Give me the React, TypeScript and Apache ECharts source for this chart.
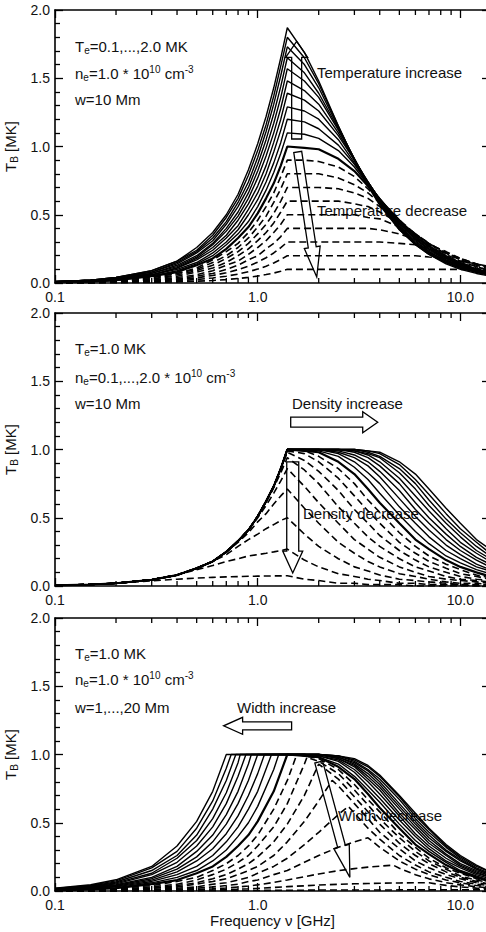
import { useEffect, useRef } from "react";
import * as echarts from "echarts";

const FONT = '"Liberation Sans", Arial, Helvetica, sans-serif';

// Frequency samples (GHz) shared by the temperature and density panels
const FREQ_GRID = [0.1, 0.15, 0.2, 0.3, 0.4, 0.5, 0.6, 0.7, 0.8, 0.9, 1.0, 1.1, 1.2, 1.3, 1.4, 1.7, 2.0, 2.5, 3.0, 3.5, 4.0, 5.0, 6.0, 7.0, 8.5, 10, 12, 14];

// Panel 1: electron temperature T_e = 0.1 ... 2.0 MK
const TEMP_VALUES = [0.1, 0.2, 0.3, 0.4, 0.5, 0.6, 0.7, 0.8, 0.9, 1.0, 1.1, 1.2, 1.3, 1.4, 1.5, 1.6, 1.7, 1.8, 1.9, 2.0];
const TEMP_CURVES = [
  [0.001, 0.001, 0.002, 0.005, 0.008, 0.013, 0.018, 0.025, 0.033, 0.041, 0.051, 0.062, 0.073, 0.086, 0.10, 0.10, 0.10, 0.10, 0.10, 0.10, 0.10, 0.10, 0.10, 0.10, 0.10, 0.10, 0.10, 0.09],
  [0.001, 0.002, 0.004, 0.009, 0.016, 0.026, 0.037, 0.050, 0.065, 0.083, 0.102, 0.123, 0.147, 0.172, 0.20, 0.20, 0.20, 0.20, 0.20, 0.20, 0.20, 0.20, 0.20, 0.19, 0.18, 0.16, 0.14, 0.12],
  [0.002, 0.003, 0.006, 0.014, 0.024, 0.038, 0.055, 0.075, 0.098, 0.124, 0.153, 0.185, 0.220, 0.259, 0.30, 0.30, 0.30, 0.30, 0.30, 0.30, 0.30, 0.29, 0.28, 0.25, 0.22, 0.18, 0.14, 0.11],
  [0, 0, 0.01, 0.02, 0.03, 0.05, 0.07, 0.10, 0.13, 0.17, 0.20, 0.25, 0.29, 0.34, 0.40, 0.40, 0.40, 0.40, 0.40, 0.40, 0.39, 0.36, 0.32, 0.28, 0.23, 0.18, 0.14, 0.11],
  [0, 0.01, 0.01, 0.02, 0.04, 0.06, 0.09, 0.13, 0.16, 0.21, 0.26, 0.31, 0.37, 0.43, 0.50, 0.50, 0.50, 0.50, 0.50, 0.48, 0.47, 0.41, 0.35, 0.29, 0.22, 0.17, 0.13, 0.10],
  [0, 0.01, 0.01, 0.03, 0.05, 0.08, 0.11, 0.15, 0.20, 0.25, 0.31, 0.37, 0.44, 0.52, 0.60, 0.60, 0.60, 0.60, 0.58, 0.56, 0.52, 0.44, 0.36, 0.29, 0.22, 0.17, 0.12, 0.09],
  [0, 0.01, 0.01, 0.03, 0.06, 0.09, 0.13, 0.18, 0.23, 0.29, 0.36, 0.43, 0.51, 0.60, 0.70, 0.70, 0.70, 0.69, 0.66, 0.62, 0.56, 0.45, 0.36, 0.29, 0.21, 0.16, 0.12, 0.09],
  [0, 0.01, 0.02, 0.04, 0.07, 0.10, 0.15, 0.20, 0.26, 0.33, 0.41, 0.49, 0.59, 0.69, 0.80, 0.80, 0.80, 0.77, 0.72, 0.66, 0.59, 0.46, 0.36, 0.28, 0.20, 0.15, 0.11, 0.08],
  [0, 0.01, 0.02, 0.04, 0.07, 0.11, 0.17, 0.23, 0.29, 0.37, 0.46, 0.56, 0.66, 0.78, 0.90, 0.90, 0.89, 0.85, 0.78, 0.69, 0.60, 0.46, 0.35, 0.27, 0.20, 0.15, 0.10, 0.08],
  [0.01, 0.01, 0.02, 0.05, 0.08, 0.13, 0.18, 0.25, 0.33, 0.41, 0.51, 0.62, 0.73, 0.86, 1.00, 0.99, 0.98, 0.91, 0.82, 0.71, 0.61, 0.46, 0.34, 0.27, 0.19, 0.14, 0.10, 0.07],
  [0.01, 0.01, 0.02, 0.05, 0.09, 0.14, 0.20, 0.28, 0.36, 0.45, 0.56, 0.68, 0.81, 0.95, 1.10, 1.09, 1.06, 0.97, 0.85, 0.72, 0.62, 0.45, 0.34, 0.26, 0.18, 0.14, 0.10, 0.07],
  [0.01, 0.01, 0.02, 0.06, 0.10, 0.15, 0.22, 0.30, 0.39, 0.50, 0.61, 0.74, 0.88, 1.03, 1.20, 1.18, 1.13, 1.01, 0.87, 0.73, 0.62, 0.44, 0.33, 0.25, 0.18, 0.13, 0.09, 0.07],
  [0.01, 0.01, 0.03, 0.06, 0.11, 0.17, 0.24, 0.33, 0.42, 0.54, 0.66, 0.80, 0.96, 1.12, 1.29, 1.26, 1.20, 1.05, 0.88, 0.74, 0.61, 0.44, 0.32, 0.25, 0.17, 0.13, 0.09, 0.07],
  [0.01, 0.02, 0.03, 0.06, 0.11, 0.18, 0.26, 0.35, 0.46, 0.58, 0.71, 0.86, 1.03, 1.20, 1.39, 1.34, 1.26, 1.08, 0.90, 0.74, 0.61, 0.43, 0.32, 0.24, 0.17, 0.12, 0.09, 0.06],
  [0.01, 0.02, 0.03, 0.07, 0.12, 0.19, 0.28, 0.38, 0.49, 0.62, 0.77, 0.93, 1.10, 1.28, 1.48, 1.41, 1.31, 1.10, 0.90, 0.74, 0.61, 0.42, 0.31, 0.23, 0.16, 0.12, 0.08, 0.06],
  [0.01, 0.02, 0.03, 0.07, 0.13, 0.20, 0.29, 0.40, 0.52, 0.66, 0.82, 0.99, 1.17, 1.36, 1.57, 1.48, 1.36, 1.12, 0.91, 0.73, 0.60, 0.41, 0.30, 0.23, 0.16, 0.12, 0.08, 0.06],
  [0.01, 0.02, 0.03, 0.08, 0.14, 0.22, 0.31, 0.43, 0.56, 0.70, 0.87, 1.05, 1.24, 1.44, 1.65, 1.54, 1.39, 1.13, 0.91, 0.73, 0.59, 0.41, 0.29, 0.22, 0.15, 0.11, 0.08, 0.06],
  [0.01, 0.02, 0.04, 0.08, 0.15, 0.23, 0.33, 0.45, 0.59, 0.74, 0.92, 1.11, 1.31, 1.52, 1.73, 1.60, 1.43, 1.14, 0.91, 0.72, 0.59, 0.40, 0.29, 0.22, 0.15, 0.11, 0.08, 0.06],
  [0.01, 0.02, 0.04, 0.09, 0.16, 0.24, 0.35, 0.48, 0.62, 0.79, 0.97, 1.16, 1.37, 1.59, 1.80, 1.65, 1.46, 1.15, 0.90, 0.72, 0.58, 0.39, 0.28, 0.21, 0.15, 0.11, 0.08, 0.06],
  [0.01, 0.02, 0.04, 0.09, 0.16, 0.26, 0.37, 0.50, 0.65, 0.83, 1.02, 1.22, 1.43, 1.65, 1.87, 1.69, 1.48, 1.15, 0.90, 0.71, 0.57, 0.39, 0.28, 0.21, 0.14, 0.10, 0.07, 0.05],
];

// Panel 2: electron density n_e = 0.1 ... 2.0 x 10^10 cm^-3
const DENS_VALUES = [0.1, 0.2, 0.3, 0.4, 0.5, 0.6, 0.7, 0.8, 0.9, 1.0, 1.1, 1.2, 1.3, 1.4, 1.5, 1.6, 1.7, 1.8, 1.9, 2.0];
const DENS_CURVES = [
  [0.005, 0.011, 0.02, 0.037, 0.05, 0.058, 0.063, 0.067, 0.069, 0.071, 0.072, 0.073, 0.074, 0.074, 0.075, 0.05, 0.04, 0.02, 0.02, 0.01, 0.01, 0.01, 0, 0, 0, 0, 0, 0],
  [0.005, 0.011, 0.02, 0.046, 0.08, 0.12, 0.15, 0.18, 0.20, 0.22, 0.23, 0.24, 0.25, 0.26, 0.27, 0.19, 0.14, 0.09, 0.07, 0.05, 0.04, 0.02, 0.02, 0.01, 0.01, 0.01, 0, 0],
  [0.005, 0.011, 0.02, 0.046, 0.08, 0.13, 0.18, 0.23, 0.29, 0.34, 0.38, 0.42, 0.45, 0.48, 0.50, 0.38, 0.29, 0.20, 0.14, 0.11, 0.08, 0.05, 0.04, 0.03, 0.02, 0.01, 0.01, 0.01],
  [0.005, 0.011, 0.02, 0.046, 0.08, 0.13, 0.18, 0.25, 0.32, 0.39, 0.47, 0.53, 0.60, 0.66, 0.71, 0.57, 0.46, 0.32, 0.24, 0.18, 0.14, 0.09, 0.07, 0.05, 0.03, 0.02, 0.02, 0.01],
  [0.005, 0.011, 0.02, 0.046, 0.08, 0.13, 0.18, 0.25, 0.33, 0.41, 0.50, 0.59, 0.68, 0.77, 0.86, 0.73, 0.61, 0.46, 0.34, 0.27, 0.21, 0.14, 0.10, 0.07, 0.05, 0.04, 0.03, 0.02],
  [0.005, 0.011, 0.02, 0.046, 0.08, 0.13, 0.18, 0.25, 0.33, 0.41, 0.51, 0.61, 0.72, 0.83, 0.94, 0.85, 0.75, 0.58, 0.46, 0.36, 0.29, 0.20, 0.14, 0.11, 0.07, 0.05, 0.04, 0.03],
  [0.005, 0.011, 0.02, 0.046, 0.08, 0.13, 0.18, 0.25, 0.33, 0.41, 0.51, 0.62, 0.73, 0.85, 0.98, 0.92, 0.84, 0.70, 0.56, 0.46, 0.37, 0.26, 0.19, 0.14, 0.10, 0.07, 0.05, 0.04],
  [0.005, 0.011, 0.02, 0.046, 0.08, 0.13, 0.18, 0.25, 0.33, 0.41, 0.51, 0.62, 0.73, 0.86, 0.99, 0.97, 0.91, 0.79, 0.66, 0.55, 0.46, 0.32, 0.24, 0.18, 0.13, 0.09, 0.07, 0.05],
  [0.005, 0.011, 0.02, 0.046, 0.08, 0.13, 0.18, 0.25, 0.33, 0.41, 0.51, 0.62, 0.73, 0.86, 1.00, 0.99, 0.95, 0.86, 0.75, 0.63, 0.54, 0.39, 0.29, 0.22, 0.16, 0.12, 0.08, 0.06],
  [0.005, 0.011, 0.02, 0.046, 0.08, 0.13, 0.18, 0.25, 0.33, 0.41, 0.51, 0.62, 0.73, 0.86, 1.00, 0.99, 0.98, 0.91, 0.82, 0.71, 0.61, 0.46, 0.34, 0.27, 0.19, 0.14, 0.10, 0.07],
  [0.005, 0.011, 0.02, 0.046, 0.08, 0.13, 0.18, 0.25, 0.33, 0.41, 0.51, 0.62, 0.73, 0.86, 1.00, 1.00, 0.99, 0.95, 0.87, 0.78, 0.68, 0.52, 0.40, 0.31, 0.22, 0.17, 0.12, 0.09],
  [0.005, 0.011, 0.02, 0.046, 0.08, 0.13, 0.18, 0.25, 0.33, 0.41, 0.51, 0.62, 0.73, 0.86, 1.00, 1.00, 1.00, 0.97, 0.91, 0.83, 0.75, 0.58, 0.46, 0.36, 0.26, 0.20, 0.14, 0.11],
  [0.005, 0.011, 0.02, 0.046, 0.08, 0.13, 0.18, 0.25, 0.33, 0.41, 0.51, 0.62, 0.73, 0.86, 1.00, 1.00, 1.00, 0.98, 0.94, 0.88, 0.80, 0.64, 0.51, 0.41, 0.30, 0.23, 0.16, 0.12],
  [0.005, 0.011, 0.02, 0.046, 0.08, 0.13, 0.18, 0.25, 0.33, 0.41, 0.51, 0.62, 0.73, 0.86, 1.00, 1.00, 1.00, 0.99, 0.96, 0.91, 0.84, 0.70, 0.56, 0.46, 0.34, 0.26, 0.19, 0.14],
  [0.005, 0.011, 0.02, 0.046, 0.08, 0.13, 0.18, 0.25, 0.33, 0.41, 0.51, 0.62, 0.73, 0.86, 1.00, 1.00, 1.00, 1.00, 0.98, 0.94, 0.88, 0.75, 0.61, 0.50, 0.38, 0.29, 0.21, 0.16],
  [0.005, 0.011, 0.02, 0.046, 0.08, 0.13, 0.18, 0.25, 0.33, 0.41, 0.51, 0.62, 0.73, 0.86, 1.00, 1.00, 1.00, 1.00, 0.99, 0.96, 0.91, 0.79, 0.66, 0.55, 0.42, 0.32, 0.24, 0.18],
  [0.005, 0.011, 0.02, 0.046, 0.08, 0.13, 0.18, 0.25, 0.33, 0.41, 0.51, 0.62, 0.73, 0.86, 1.00, 1.00, 1.00, 1.00, 0.99, 0.97, 0.94, 0.83, 0.71, 0.59, 0.46, 0.36, 0.26, 0.20],
  [0.005, 0.011, 0.02, 0.046, 0.08, 0.13, 0.18, 0.25, 0.33, 0.41, 0.51, 0.62, 0.73, 0.86, 1.00, 1.00, 1.00, 1.00, 1.00, 0.98, 0.95, 0.86, 0.75, 0.63, 0.49, 0.39, 0.29, 0.22],
  [0.005, 0.011, 0.02, 0.046, 0.08, 0.13, 0.18, 0.25, 0.33, 0.41, 0.51, 0.62, 0.73, 0.86, 1.00, 1.00, 1.00, 1.00, 1.00, 0.99, 0.97, 0.89, 0.78, 0.67, 0.53, 0.42, 0.32, 0.24],
  [0.005, 0.011, 0.02, 0.046, 0.08, 0.13, 0.18, 0.25, 0.33, 0.41, 0.51, 0.62, 0.73, 0.86, 1.00, 1.00, 1.00, 1.00, 1.00, 0.99, 0.98, 0.91, 0.82, 0.71, 0.57, 0.46, 0.34, 0.27],
];

// Panel 3: source width w = 1 ... 20 Mm
const FREQ_WIDTH = [0.1, 0.15, 0.2, 0.3, 0.4, 0.5, 0.6, 0.7, 0.8, 0.9, 1.0, 1.2, 1.4, 1.7, 2.0, 2.5, 3.0, 3.5, 4.0, 5.0, 6.0, 7.0, 8.5, 10, 12, 14];
const WIDTH_VALUES = [1, 2, 3, 4, 5, 6, 7, 8, 9, 10, 11, 12, 13, 14, 15, 16, 17, 18, 19, 20];
const WIDTH_CURVES = [
  [0, 0, 0, 0, 0.001, 0.001, 0.002, 0.002, 0.003, 0.004, 0.004, 0.005, 0.005, 0.006, 0.007, 0.007, 0.007, 0.007, 0.007, 0.008, 0.008, 0.008, 0.008, 0.008, 0.008, 0.008],
  [0, 0.001, 0.001, 0.002, 0.003, 0.005, 0.007, 0.010, 0.013, 0.016, 0.019, 0.026, 0.032, 0.038, 0.044, 0.049, 0.053, 0.055, 0.057, 0.059, 0.060, 0.060, 0.041, 0.030, 0.021, 0.015],
  [0.001, 0.001, 0.002, 0.004, 0.007, 0.011, 0.016, 0.022, 0.029, 0.037, 0.045, 0.063, 0.081, 0.105, 0.125, 0.149, 0.164, 0.175, 0.182, 0.167, 0.119, 0.089, 0.061, 0.045, 0.031, 0.023],
  [0.001, 0.002, 0.003, 0.007, 0.013, 0.02, 0.03, 0.04, 0.05, 0.07, 0.08, 0.12, 0.15, 0.21, 0.26, 0.32, 0.36, 0.39, 0.32, 0.22, 0.16, 0.12, 0.08, 0.06, 0.04, 0.03],
  [0.001, 0.003, 0.005, 0.01, 0.02, 0.03, 0.05, 0.06, 0.08, 0.10, 0.13, 0.18, 0.24, 0.34, 0.43, 0.56, 0.57, 0.46, 0.38, 0.26, 0.19, 0.14, 0.10, 0.07, 0.05, 0.04],
  [0.002, 0.004, 0.007, 0.02, 0.03, 0.05, 0.07, 0.09, 0.12, 0.15, 0.18, 0.26, 0.36, 0.51, 0.66, 0.77, 0.64, 0.53, 0.43, 0.31, 0.22, 0.17, 0.12, 0.09, 0.06, 0.05],
  [0.003, 0.006, 0.01, 0.02, 0.04, 0.06, 0.09, 0.12, 0.16, 0.20, 0.25, 0.36, 0.49, 0.70, 0.93, 0.82, 0.69, 0.58, 0.49, 0.35, 0.26, 0.20, 0.14, 0.10, 0.07, 0.05],
  [0.003, 0.007, 0.013, 0.03, 0.05, 0.08, 0.12, 0.16, 0.21, 0.26, 0.33, 0.47, 0.64, 0.93, 0.95, 0.86, 0.74, 0.63, 0.53, 0.39, 0.29, 0.22, 0.16, 0.11, 0.08, 0.06],
  [0.004, 0.009, 0.017, 0.04, 0.07, 0.10, 0.15, 0.20, 0.26, 0.33, 0.41, 0.60, 0.81, 0.99, 0.97, 0.89, 0.78, 0.67, 0.58, 0.42, 0.32, 0.24, 0.17, 0.13, 0.09, 0.07],
  [0.005, 0.012, 0.02, 0.05, 0.08, 0.13, 0.18, 0.25, 0.33, 0.41, 0.51, 0.73, 1.00, 0.99, 0.98, 0.91, 0.82, 0.71, 0.61, 0.46, 0.34, 0.27, 0.19, 0.14, 0.10, 0.07],
  [0.006, 0.014, 0.025, 0.06, 0.10, 0.15, 0.22, 0.30, 0.40, 0.50, 0.62, 0.89, 1.00, 1.00, 0.98, 0.93, 0.84, 0.74, 0.65, 0.49, 0.37, 0.29, 0.21, 0.15, 0.11, 0.08],
  [0.007, 0.017, 0.03, 0.07, 0.12, 0.18, 0.26, 0.36, 0.47, 0.60, 0.73, 1.00, 1.00, 1.00, 0.99, 0.95, 0.87, 0.77, 0.68, 0.52, 0.40, 0.31, 0.22, 0.17, 0.12, 0.09],
  [0.009, 0.019, 0.035, 0.08, 0.14, 0.22, 0.31, 0.42, 0.55, 0.70, 0.86, 1.00, 1.00, 1.00, 0.99, 0.96, 0.89, 0.80, 0.71, 0.55, 0.42, 0.33, 0.24, 0.18, 0.13, 0.10],
  [0.01, 0.023, 0.04, 0.09, 0.16, 0.25, 0.36, 0.49, 0.64, 0.81, 1.00, 1.00, 1.00, 1.00, 1.00, 0.97, 0.91, 0.82, 0.74, 0.57, 0.45, 0.35, 0.26, 0.19, 0.14, 0.10],
  [0.012, 0.026, 0.046, 0.10, 0.18, 0.29, 0.41, 0.56, 0.73, 0.93, 1.00, 1.00, 1.00, 1.00, 1.00, 0.97, 0.92, 0.84, 0.76, 0.60, 0.47, 0.37, 0.27, 0.20, 0.15, 0.11],
  [0.013, 0.029, 0.052, 0.12, 0.21, 0.33, 0.47, 0.64, 0.84, 1.00, 1.00, 1.00, 1.00, 1.00, 1.00, 0.98, 0.93, 0.86, 0.78, 0.62, 0.49, 0.39, 0.29, 0.22, 0.16, 0.12],
  [0.015, 0.033, 0.059, 0.13, 0.24, 0.37, 0.53, 0.72, 0.94, 1.00, 1.00, 1.00, 1.00, 1.00, 1.00, 0.98, 0.94, 0.88, 0.80, 0.64, 0.51, 0.41, 0.30, 0.23, 0.16, 0.12],
  [0.017, 0.037, 0.066, 0.15, 0.26, 0.41, 0.60, 0.81, 1.00, 1.00, 1.00, 1.00, 1.00, 1.00, 1.00, 0.99, 0.95, 0.89, 0.82, 0.67, 0.53, 0.43, 0.32, 0.24, 0.17, 0.13],
  [0.018, 0.041, 0.074, 0.17, 0.29, 0.46, 0.66, 0.90, 1.00, 1.00, 1.00, 1.00, 1.00, 1.00, 1.00, 0.99, 0.96, 0.91, 0.84, 0.69, 0.55, 0.45, 0.33, 0.25, 0.18, 0.14],
  [0.02, 0.046, 0.082, 0.18, 0.33, 0.51, 0.73, 1.00, 1.00, 1.00, 1.00, 1.00, 1.00, 1.00, 1.00, 0.99, 0.97, 0.92, 0.85, 0.70, 0.57, 0.46, 0.34, 0.26, 0.19, 0.14],
];
// Corner of each width curve (where the source fills the beam)
const WIDTH_KNEE_FREQ = [14, 7, 4.67, 3.5, 2.8, 2.33, 2.0, 1.75, 1.56, 1.4, 1.27, 1.17, 1.08, 1.0, 0.93, 0.875, 0.82, 0.78, 0.74, 0.7];
const WIDTH_KNEE_TB = [0.008, 0.06, 0.189, 0.39, 0.62, 0.81, 0.93, 0.98, 1.0, 1.0, 1.0, 1.0, 1.0, 1.0, 1.0, 1.0, 1.0, 1.0, 1.0, 1.0];

// Minor ticks of the logarithmic frequency axis
const MINOR_X_TICKS = [0.2, 0.3, 0.4, 0.5, 0.6, 0.7, 0.8, 0.9, 2, 3, 4, 5, 6, 7, 8, 9];

// Hollow arrows: [tail GHz, tail MK, tip GHz, tip MK, shaft half-width px, head half-width px, head length px]
const ARROWS_TEMP = [
  [1.557, 1.055, 1.557, 1.77, 5, 11, 16],
  [1.576, 0.96, 1.956, 0.044, 4, 8, 30],
];
const ARROWS_DENS = [
  [1.455, 1.2, 3.91, 1.2, 5, 10.5, 15],
  [1.489, 0.91, 1.489, 0.095, 6, 10, 22],
];
const ARROWS_WIDTH = [
  [1.47, 1.21, 0.679, 1.21, 4, 8.5, 19],
  [2.0, 0.945, 2.85, 0.1, 4, 8, 32],
];

const PANEL_TOPS = [10, 313, 618];
const PANEL_HEIGHT = 273;

const RICH = {
  r: { fontSize: 15, fontFamily: FONT, fill: "#111", lineHeight: 18 },
  sub: { fontSize: 10, fontFamily: FONT, fill: "#111", lineHeight: 10, verticalAlign: "bottom" },
  sup: { fontSize: 10, fontFamily: FONT, fill: "#111", lineHeight: 10, verticalAlign: "top" },
};

const TEXTS: [number, number, string][] = [
  [75, 46.5, "{r|T}{sub|e}{r|=0.1,...,2.0 MK}"],
  [75, 73, "{r|n}{sub|e}{r|=1.0 * 10}{sup|10}{r| cm}{sup|-3}"],
  [75, 99, "{r|w=10 Mm}"],
  [317, 72.5, "{r|Temperature increase}"],
  [317, 210, "{r|Temperature decrease}"],
  [75, 348, "{r|T}{sub|e}{r|=1.0 MK}"],
  [75, 377, "{r|n}{sub|e}{r|=0.1,...,2.0 * 10}{sup|10}{r| cm}{sup|-3}"],
  [75, 403, "{r|w=10 Mm}"],
  [292, 403, "{r|Density increase}"],
  [303, 513, "{r|Density decrease}"],
  [75, 653, "{r|T}{sub|e}{r|=1.0 MK}"],
  [75, 679, "{r|n}{sub|e}{r|=1.0 * 10}{sup|10}{r| cm}{sup|-3}"],
  [75, 707, "{r|w=1,...,20 Mm}"],
  [237, 707, "{r|Width increase}"],
  [338, 815, "{r|Width decrease}"],
];

const AXIS_LINE = { color: "#000", width: 1.6 };
const TICK_LINE = { color: "#000", width: 1.3 };

function xAxisDef(i: number, pos: "bottom" | "top") {
  const bottom = pos === "bottom";
  return {
    type: "log",
    logBase: 10,
    gridIndex: i,
    position: pos,
    min: 0.1,
    max: 14,
    axisLine: { show: true, onZero: false, lineStyle: AXIS_LINE },
    axisTick: { show: true, inside: true, length: 8, lineStyle: TICK_LINE },
    minorTick: { show: false },
    splitLine: { show: false },
    axisLabel: bottom
      ? {
          show: true,
          formatter: (v: number) => Number(v).toFixed(1),
          fontSize: 14,
          fontFamily: FONT,
          color: "#111",
          margin: 7,
          showMinLabel: true,
          showMaxLabel: false,
        }
      : { show: false },
    name: bottom && i === 2 ? "Frequency \u03bd [GHz]" : "",
    nameLocation: "middle",
    nameGap: 22,
    nameTextStyle: { fontSize: 15, fontFamily: FONT, color: "#111" },
  };
}

function yAxisDef(i: number, pos: "left" | "right") {
  const left = pos === "left";
  return {
    type: "value",
    gridIndex: i,
    position: pos,
    min: 0,
    max: 2,
    interval: 0.5,
    axisLine: { show: true, onZero: false, lineStyle: AXIS_LINE },
    axisTick: { show: true, inside: true, length: 8, lineStyle: TICK_LINE },
    minorTick: { show: left, splitNumber: 5, length: 5, lineStyle: TICK_LINE },
    splitLine: { show: false },
    minorSplitLine: { show: false },
    axisLabel: left
      ? { show: true, formatter: (v: number) => v.toFixed(1), fontSize: 14, fontFamily: FONT, color: "#111", margin: 5 }
      : { show: false },
    name: left ? "{t|T}{s|B}{t| [MK]}" : "",
    nameLocation: "middle",
    nameGap: 32,
    nameRotate: 90,
    nameTextStyle: {
      color: "#111",
      fontFamily: FONT,
      fontSize: 15,
      rich: {
        t: { fontSize: 15, fontFamily: FONT, color: "#111", lineHeight: 18 },
        s: { fontSize: 10, fontFamily: FONT, color: "#111", lineHeight: 10, verticalAlign: "bottom" },
      },
    },
  };
}

function curveSeries(panel: number, data: number[][], dashed: boolean, reference: boolean) {
  return {
    type: "line",
    xAxisIndex: 2 * panel,
    yAxisIndex: 2 * panel,
    data,
    symbol: "none",
    showSymbol: false,
    silent: true,
    clip: true,
    z: 3,
    lineStyle: {
      color: "#000",
      width: reference ? 2.2 : dashed ? 1.6 : 1.4,
      type: dashed ? [7, 4] : "solid",
    },
    emphasis: { disabled: true },
  };
}

function minorTickSeries(panel: number) {
  return {
    type: "custom",
    xAxisIndex: 2 * panel,
    yAxisIndex: 2 * panel,
    silent: true,
    clip: false,
    z: 5,
    data: MINOR_X_TICKS.map((v) => [v, 0]),
    encode: { x: 0, y: 1 },
    renderItem: (_params: any, api: any) => {
      const v = api.value(0);
      const b = api.coord([v, 0]);
      const t = api.coord([v, 2]);
      const style = { stroke: "#000", lineWidth: 1.3 };
      return {
        type: "group",
        children: [
          { type: "line", shape: { x1: b[0], y1: b[1], x2: b[0], y2: b[1] - 5 }, style },
          { type: "line", shape: { x1: t[0], y1: t[1], x2: t[0], y2: t[1] + 5 }, style },
        ],
      };
    },
  };
}

function arrowSeries(panel: number, arrows: number[][]) {
  return {
    type: "custom",
    xAxisIndex: 2 * panel,
    yAxisIndex: 2 * panel,
    silent: true,
    clip: false,
    z: 6,
    data: arrows,
    encode: { x: [0, 2], y: [1, 3] },
    renderItem: (_params: any, api: any) => {
      const p0 = api.coord([api.value(0), api.value(1)]);
      const p1 = api.coord([api.value(2), api.value(3)]);
      const sw = api.value(4);
      const hw = api.value(5);
      const hl = api.value(6);
      const dx = p1[0] - p0[0];
      const dy = p1[1] - p0[1];
      const len = Math.hypot(dx, dy) || 1;
      const ux = dx / len;
      const uy = dy / len;
      const nx = -uy;
      const ny = ux;
      const bx = p1[0] - ux * hl;
      const by = p1[1] - uy * hl;
      const points = [
        [p0[0] + nx * sw, p0[1] + ny * sw],
        [bx + nx * sw, by + ny * sw],
        [bx + nx * hw, by + ny * hw],
        [p1[0], p1[1]],
        [bx - nx * hw, by - ny * hw],
        [bx - nx * sw, by - ny * sw],
        [p0[0] - nx * sw, p0[1] - ny * sw],
      ];
      return {
        type: "polygon",
        shape: { points },
        style: { fill: "none", stroke: "#000", lineWidth: 1.3 },
      };
    },
  };
}

function buildOption() {
  const series: any[] = [];

  TEMP_VALUES.forEach((t, k) => {
    const data = FREQ_GRID.map((f, i) => [f, TEMP_CURVES[k][i]]);
    series.push(curveSeries(0, data, t < 1, t === 1));
  });

  DENS_VALUES.forEach((n, k) => {
    const data = FREQ_GRID.map((f, i) => [f, DENS_CURVES[k][i]]);
    series.push(curveSeries(1, data, n < 1, n === 1));
  });

  WIDTH_VALUES.forEach((w, k) => {
    const data = FREQ_WIDTH.map((f, i) => [f, WIDTH_CURVES[k][i]]);
    const kf = WIDTH_KNEE_FREQ[k];
    if (!data.some((p) => Math.abs(p[0] - kf) < 1e-6)) data.push([kf, WIDTH_KNEE_TB[k]]);
    data.sort((a, b) => a[0] - b[0]);
    series.push(curveSeries(2, data, w < 10, w === 10));
  });

  [0, 1, 2].forEach((p) => series.push(minorTickSeries(p)));
  series.push(arrowSeries(0, ARROWS_TEMP));
  series.push(arrowSeries(1, ARROWS_DENS));
  series.push(arrowSeries(2, ARROWS_WIDTH));

  return {
    animation: false,
    backgroundColor: "#fff",
    textStyle: { fontFamily: FONT },
    grid: PANEL_TOPS.map((top) => ({
      left: 55,
      right: -4,
      top,
      height: PANEL_HEIGHT,
      containLabel: false,
      outerBoundsMode: "none",
    })),
    xAxis: PANEL_TOPS.flatMap((_, i) => [xAxisDef(i, "bottom"), xAxisDef(i, "top")]),
    yAxis: PANEL_TOPS.flatMap((_, i) => [yAxisDef(i, "left"), yAxisDef(i, "right")]),
    graphic: {
      elements: TEXTS.map(([x, y, text]) => ({
        type: "text",
        x,
        y,
        z: 1,
        silent: true,
        style: {
          text,
          rich: RICH,
          fontSize: 15,
          fontFamily: FONT,
          fill: "#111",
          align: "left",
          verticalAlign: "middle",
        },
      })),
    },
    series,
  };
}

export default function App() {
  const ref = useRef<HTMLDivElement | null>(null);

  useEffect(() => {
    if (!ref.current) return;
    const chart = echarts.init(ref.current, undefined, { renderer: "svg" });
    chart.setOption(buildOption() as any);
    return () => {
      chart.dispose();
    };
  }, []);

  return (
    <div
      ref={ref}
      style={{ position: "absolute", left: 0, top: 0, width: 486, height: 932, background: "#fff" }}
    />
  );
}
